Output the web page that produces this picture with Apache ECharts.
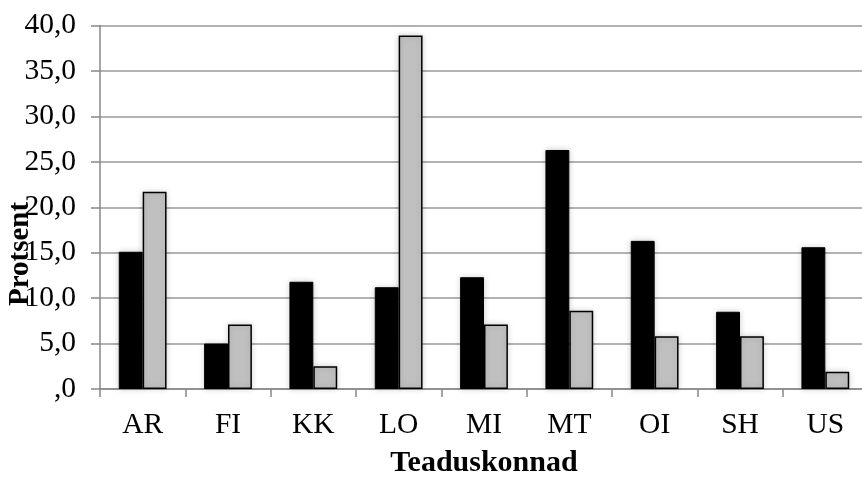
<!DOCTYPE html>
<html>
<head>
<meta charset="utf-8">
<script src="https://cdn.jsdelivr.net/npm/echarts@6/dist/echarts.min.js"></script>
<style>html,body{margin:0;padding:0;background:#fff}#c{width:862px;height:477px}</style>
</head>
<body>
<div id="c"></div>
<script>
const categories = ['AR','FI','KK','LO','MI','MT','OI','SH','US'];
const seriesBlack = [15.1, 5.0, 11.8, 11.2, 12.3, 26.3, 16.3, 8.5, 15.6];
const seriesGray = [21.7, 7.1, 2.5, 38.9, 7.1, 8.6, 5.8, 5.8, 1.9];
const yTicks = [0, 5, 10, 15, 20, 25, 30, 35, 40];
const xTitle = 'Teaduskonnad';
const yTitle = 'Protsent';

const font = 'Liberation Serif, Times New Roman, serif';
const chart = echarts.init(document.getElementById('c'));
chart.setOption({
  animation: false,
  backgroundColor: '#fff',
  grid: { left: 100, top: 25.5, width: 768, bottom: 88, containLabel: false, outerBoundsMode: 'none' },
  xAxis: {
    type: 'category',
    data: categories,
    axisLine: { lineStyle: { color: '#888', width: 1.5 } },
    axisTick: { show: true, length: 8, lineStyle: { color: '#888', width: 1.5 } },
    axisLabel: { color: '#000', fontFamily: font, fontSize: 29.5, margin: 21 },
    name: xTitle,
    nameLocation: 'middle',
    nameGap: 59,
    nameTextStyle: { color: '#000', fontFamily: font, fontSize: 30, fontWeight: 'bold' }
  },
  yAxis: {
    type: 'value',
    min: yTicks[0],
    max: yTicks[yTicks.length - 1],
    interval: 5,
    axisLine: { show: true, lineStyle: { color: '#888', width: 1.5 } },
    axisTick: { show: true, length: 9, lineStyle: { color: '#888', width: 1.5 } },
    splitLine: { lineStyle: { color: '#999', width: 1.5 } },
    axisLabel: {
      color: '#000', fontFamily: font, fontSize: 29.5, margin: 24,
      formatter: v => v === 0 ? ',0' : v.toFixed(1).replace('.', ',')
    }
  },
  graphic: [{
    type: 'text',
    x: 21, y: 254,
    rotation: Math.PI / 2,
    style: {
      text: yTitle, fill: '#000', font: 'bold 29px ' + font,
      align: 'center', verticalAlign: 'middle'
    },
    z: 100
  }],
  series: [
    {
      type: 'bar', data: seriesBlack, barWidth: '28%', barGap: '0%',
      itemStyle: { color: '#000', borderColor: '#000', borderWidth: 1,
        shadowColor: 'rgba(0,0,0,0.18)', shadowBlur: 6 }
    },
    {
      type: 'bar', data: seriesGray, barWidth: '28%', barGap: '0%',
      itemStyle: { color: '#c0c0c0', borderColor: '#000', borderWidth: 1.5,
        shadowColor: 'rgba(0,0,0,0.18)', shadowBlur: 6 }
    }
  ]
});
</script>
</body>
</html>
